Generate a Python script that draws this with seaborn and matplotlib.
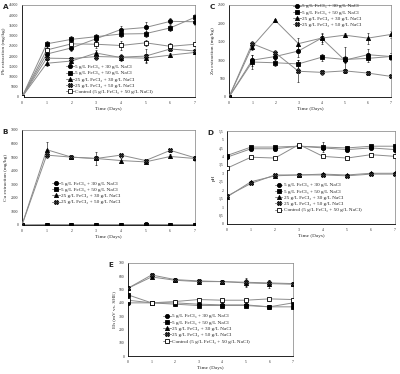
import numpy as np
import pandas as pd
import seaborn as sns
import matplotlib.pyplot as plt
from matplotlib.ticker import MultipleLocator, FuncFormatter

# --- data ---
days = [0, 1, 2, 3, 4, 5, 6, 7]

series_labels = ['5 g/L FeCl\u2083 + 30 g/L NaCl',
                 '5 g/L FeCl\u2083 + 50 g/L NaCl',
                 '25 g/L FeCl\u2083 + 30 g/L NaCl',
                 '25 g/L FeCl\u2083 + 50 g/L NaCl',
                 'Control (5 g/L FeCl\u2083 + 50 g/L NaCl)']

# A: Pb extraction (mg/kg)
pb_5_30 = [0, 21000, 24000, 28500, 33000, 34000, 37000, 36800]
pb_5_50 = [0, 26000, 28200, 29500, 30800, 31000, 33800, 39000]
pb_25_30 = [0, 16500, 17600, 21500, 19300, 19000, 20500, 21800]
pb_25_50 = [0, 19000, 18800, 19800, 19500, 20000, 23500, 22500]
pb_ctrl = [0, 23000, 26000, 25800, 25200, 26500, 24800, 25800]
pb_err = [[0, 1500, 1500, 2000, 1500, 2500, 1500, 1500],
          [0, 1500, 1500, 1500, 1500, 1500, 1500, 1500],
          [0, 1500, 1000, 1500, 1500, 2000, 1000, 1000],
          [0, 1000, 1000, 1500, 1000, 3500, 1000, 1000],
          [0, 2500, 1500, 2000, 2000, 1500, 1500, 1000]]

# C: Zn extraction (mg/kg)
zn_5_30 = [0, 1000, 1100, 1250, 1600, 1000, 1150, 1100]
zn_5_50 = [0, 950, 930, 900, 1080, 1020, 1050, 1100]
zn_25_30 = [0, 1370, 2080, 1450, 1600, 1680, 1600, 1700]
zn_25_50 = [0, 1450, 1200, 700, 670, 710, 650, 560]
zn_err = [[0, 150, 100, 150, 150, 350, 150, 100],
          [0, 200, 100, 100, 100, 100, 100, 100],
          [0, 100, 50, 150, 100, 50, 150, 100],
          [0, 80, 80, 300, 60, 60, 50, 50]]

# B: Cu extraction (mg/kg)
cu_5_30 = [0, 20, 20, 20, 20, 40, 20, 20]
cu_5_50 = [0, 20, 20, 20, 20, 30, 20, 20]
cu_25_30 = [0, 5550, 5000, 4900, 4750, 4650, 5050, 4900]
cu_25_50 = [0, 5150, 5000, 4900, 5150, 4750, 5500, 4950]
cu_err = [[0, 20, 20, 20, 20, 20, 20, 20],
          [0, 20, 20, 20, 20, 20, 20, 20],
          [0, 600, 100, 500, 150, 100, 150, 150],
          [0, 100, 100, 100, 100, 100, 100, 100]]

# D: pH
ph_5_30 = [3.95, 4.45, 4.45, 4.6, 4.5, 4.4, 4.5, 4.4]
ph_5_50 = [4.05, 4.55, 4.55, 4.6, 4.55, 4.5, 4.6, 4.6]
ph_25_30 = [1.6, 2.5, 2.85, 2.9, 2.95, 2.9, 3.0, 3.0]
ph_25_50 = [1.65, 2.4, 2.9, 2.9, 2.9, 2.85, 2.95, 2.95]
ph_ctrl = [3.3, 3.95, 3.9, 4.7, 4.0, 3.9, 4.1, 4.0]
ph_err = [[0.05, 0.05, 0.05, 0.1, 0.05, 0.1, 0.05, 0.1],
          [0.05, 0.05, 0.05, 0.05, 0.3, 0.1, 0.1, 0.1],
          [0.05, 0.05, 0.05, 0.05, 0.05, 0.05, 0.05, 0.05],
          [0.05, 0.05, 0.05, 0.05, 0.05, 0.05, 0.05, 0.05],
          [0.05, 0.05, 0.05, 0.05, 0.05, 0.05, 0.05, 0.05]]

# E: Eh (mV vs. SHE)
eh_5_30 = [400, 400, 400, 390, 385, 385, 370, 400]
eh_5_50 = [460, 400, 390, 380, 380, 380, 370, 370]
eh_25_30 = [510, 595, 570, 560, 560, 550, 545, 540]
eh_25_50 = [510, 610, 575, 565, 560, 555, 550, 545]
eh_ctrl = [420, 400, 410, 425, 420, 420, 430, 425]
eh_err = [[10, 10, 10, 10, 10, 10, 10, 10],
          [15, 10, 10, 10, 10, 10, 10, 10],
          [15, 10, 10, 10, 10, 30, 30, 10],
          [15, 15, 10, 15, 10, 30, 20, 10],
          [10, 10, 10, 10, 10, 10, 10, 10]]

markers = ['o', 's', '^', 'X', 's']
face_cols = ['black', 'black', 'black', '#3a3a3a', 'white']
serif = ['Liberation Serif', 'DejaVu Serif']


def draw_panel(ax, values, errs, ymax, ystep, ylabel, letter, leg_anchor,
               yminor=None, fmt=None):
    n = len(values)
    df = pd.DataFrame({'day': days * n,
                       'value': np.concatenate(values),
                       'series': np.repeat(series_labels[:n], len(days))})
    for i, lab in enumerate(series_labels[:n]):
        sub = df[df['series'] == lab]
        ax.errorbar(sub['day'], sub['value'], yerr=errs[i], fmt='none',
                    ecolor='black', elinewidth=0.4, capsize=1.0,
                    capthick=0.4, zorder=2)
        sns.lineplot(data=sub, x='day', y='value', ax=ax, color='#8c8c8c',
                     linewidth=0.7, marker=markers[i], markersize=3.0,
                     markerfacecolor=face_cols[i], markeredgecolor='black',
                     markeredgewidth=0.6, label=lab, zorder=3)

    ax.set_xlim(0, 7)
    ax.set_ylim(0, ymax)
    ax.xaxis.set_major_locator(MultipleLocator(1))
    ax.xaxis.set_minor_locator(MultipleLocator(0.2))
    ax.yaxis.set_major_locator(MultipleLocator(ystep))
    ax.yaxis.set_minor_locator(MultipleLocator(yminor or ystep / 5))
    if fmt is not None:
        ax.yaxis.set_major_formatter(FuncFormatter(fmt))
    ax.tick_params(which='major', length=1.4, width=0.5, labelsize=2.7,
                   pad=1.2)
    ax.tick_params(which='minor', length=0.9, width=0.4)
    for lbl in ax.get_xticklabels() + ax.get_yticklabels():
        lbl.set_family(serif)
    ax.set_xlabel('Time (Days)', fontsize=3.8, family=serif, labelpad=2)
    ax.set_ylabel(ylabel, fontsize=3.8, family=serif, labelpad=2)
    for side in ['left', 'bottom']:
        ax.spines[side].set_color('black')
        ax.spines[side].set_linewidth(0.6)
    for side in ['top', 'right']:
        ax.spines[side].set_visible(True)
        ax.spines[side].set_color('#7f7f7f')
        ax.spines[side].set_linewidth(0.5)
    ax.grid(False)
    ax.legend(loc='upper left', bbox_to_anchor=leg_anchor, frameon=False,
              prop={'family': serif, 'size': 3.8}, handlelength=1.5,
              handletextpad=0.2, labelspacing=0.3, borderpad=0.1,
              borderaxespad=0)
    fig = ax.figure
    pos = ax.get_position()
    fig.text(pos.x0 - 0.048, pos.y1 + 0.002, letter, fontsize=5.2,
             fontweight='bold', ha='left', va='top', family='DejaVu Sans')


sns.set_theme(style='white')
plt.rcParams['font.family'] = serif

fig = plt.figure(figsize=(4.0, 3.74), dpi=100)
H = 374.0
W = 400.0


def axes_px(x0, x1, ytop, ybot):
    return fig.add_axes([x0 / W, 1 - ybot / H, (x1 - x0) / W, (ybot - ytop) / H])


comma = lambda v, p: ('%g' % v).replace('.', ',')

ax_a = axes_px(22, 195, 5, 97)
draw_panel(ax_a, [pb_5_30, pb_5_50, pb_25_30, pb_25_50, pb_ctrl], pb_err,
           45000, 5000, 'Pb extraction (mg/kg)', 'A', (0.25, 0.36),
           yminor=1000)

ax_c = axes_px(229, 391, 5, 97)
draw_panel(ax_c, [zn_5_30, zn_5_50, zn_25_30, zn_25_50], zn_err,
           2500, 500, 'Zn extraction (mg/kg)', 'C', (0.39, 1.02),
           yminor=100)

ax_b = axes_px(22, 195, 130, 225)
draw_panel(ax_b, [cu_5_30, cu_5_50, cu_25_30, cu_25_50], cu_err,
           7000, 1000, 'Cu extraction (mg/kg)', 'B', (0.17, 0.47),
           yminor=200)

ax_d = axes_px(227, 395, 131, 224)
draw_panel(ax_d, [ph_5_30, ph_5_50, ph_25_30, ph_25_50, ph_ctrl], ph_err,
           5.5, 0.5, 'pH', 'D', (0.28, 0.45), yminor=0.1, fmt=comma)

ax_e = axes_px(128, 293, 263, 356)
draw_panel(ax_e, [eh_5_30, eh_5_50, eh_25_30, eh_25_50, eh_ctrl], eh_err,
           700, 100, 'Eh (mV vs. SHE)', 'E', (0.21, 0.46), yminor=20)

plt.savefig('out.png', dpi=100)
plt.close()
